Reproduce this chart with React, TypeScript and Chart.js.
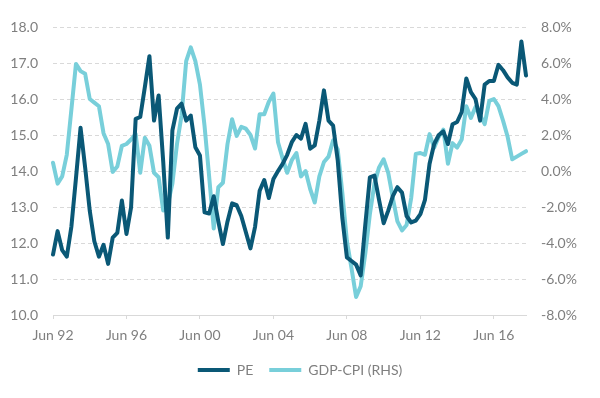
import React, { useEffect, useRef } from 'react';
import { Chart, registerables } from 'chart.js';

Chart.register(...registerables);

// Quarterly observations, Jun 1992 .. Mar 2018
const START_YEAR = 1992;
const QUARTER_MONTHS = ['Jun', 'Sep', 'Dec', 'Mar'];
const LABEL_EVERY = 16; // one label every 4 years

const peValues = [
  11.68, 12.33, 11.8, 11.62, 12.45, 13.8, 15.2, 14.1, 12.9, 12.05,
  11.62, 11.95, 11.42, 12.15, 12.28, 13.18, 12.25, 12.99, 15.45, 15.5,
  16.33, 17.19, 15.4, 16.1, 14.26, 12.15, 15.13, 15.73, 15.87, 15.4,
  15.54, 14.66, 14.43, 12.85, 12.82, 13.3, 12.6, 11.97, 12.6, 13.1,
  13.05, 12.75, 12.3, 11.85, 12.45, 13.45, 13.75, 13.25, 13.78, 14.0,
  14.2, 14.45, 14.8, 15.0, 14.9, 15.31, 14.62, 14.71, 15.4, 16.24,
  15.4, 15.26, 14.3, 12.7, 11.6, 11.5, 11.4, 11.1, 12.5, 13.82,
  13.87, 13.2, 12.55, 12.9, 13.3, 13.55, 13.4, 12.75, 12.57, 12.62,
  12.8, 13.2, 14.2, 14.75, 15.0, 15.1, 14.75, 15.3, 15.36, 15.64,
  16.57, 16.19, 16.0, 15.4, 16.4, 16.5, 16.5, 16.95, 16.8, 16.6,
  16.45, 16.4, 17.6, 16.65,
];

const gdpCpiValues = [
  0.46, -0.7, -0.3, 0.9, 3.4, 5.95, 5.55, 5.4, 4.0, 3.8,
  3.6, 2.1, 1.5, -0.05, 0.25, 1.4, 1.5, 1.75, 2.05, -0.1,
  1.85, 1.4, -0.1, -0.35, -2.2, -1.85, -0.7, 1.5, 3.1, 6.1,
  6.87, 6.1, 4.8, 2.5, -0.3, -3.2, -0.9, -0.65, 1.5, 2.88,
  1.95, 2.45, 2.35, 2.0, 1.25, 3.15, 3.15, 3.85, 4.3, 1.6,
  0.7, -0.1, 0.6, 1.0, -0.3, 0.0, -1.0, -1.75, -0.3, 0.5,
  0.8, 1.7, 1.2, -1.2, -3.9, -5.4, -7.0, -6.4, -4.6, -2.4,
  -0.7, 0.2, 0.65, -0.1, -1.5, -2.8, -3.3, -3.0, -1.5, 0.95,
  1.0, 0.9, 2.05, 1.3, 1.9, 2.3, 0.4, 1.55, 1.3, 1.75,
  3.6, 2.95, 3.55, 3.1, 2.6, 3.9, 4.0, 3.6, 2.8, 1.9,
  0.65, 0.8, 0.95, 1.1,
];

const leftAxis = { min: 10, max: 18, step: 1 };
const rightAxis = { min: -8, max: 8, step: 2 };

const seriesNames = ['PE', 'GDP-CPI (RHS)'];

function quarterLabel(i: number): string {
  const month = QUARTER_MONTHS[i % 4];
  const year = START_YEAR + Math.floor((i + 1) / 4);
  return `${month} ${String(year % 100).padStart(2, '0')}`;
}

const categories = peValues.map((_, i) => quarterLabel(i));

const TEXT_COLOR = '#7f7f7f';
const GRID_COLOR = '#d9d9d9';
const FONT = { family: 'Lato', size: 14 };

export default function App() {
  const canvasRef = useRef<HTMLCanvasElement | null>(null);

  useEffect(() => {
    const canvas = canvasRef.current;
    if (!canvas) return;
    const chart = new Chart(canvas, {
      type: 'line',
      data: {
        labels: categories,
        datasets: [
          {
            label: seriesNames[0],
            data: peValues,
            yAxisID: 'y',
            borderColor: '#0a5876',
            backgroundColor: '#0a5876',
            borderWidth: 4,
            pointRadius: 0,
            tension: 0,
            borderCapStyle: 'round',
            borderJoinStyle: 'round',
          },
          {
            label: seriesNames[1],
            data: gdpCpiValues,
            yAxisID: 'y1',
            borderColor: '#78cfda',
            backgroundColor: '#78cfda',
            borderWidth: 4,
            pointRadius: 0,
            tension: 0,
            borderCapStyle: 'round',
            borderJoinStyle: 'round',
          },
        ],
      },
      options: {
        animation: false,
        responsive: false,
        maintainAspectRatio: false,
        layout: { padding: { left: 0, right: 0, top: 27, bottom: 11 } },
        plugins: {
          tooltip: { enabled: false },
          legend: {
            position: 'bottom',
            labels: {
              usePointStyle: true,
              pointStyle: 'line',
              pointStyleWidth: 32,
              padding: 16,
              color: TEXT_COLOR,
              font: FONT,
            },
          },
        },
        scales: {
          x: {
            type: 'category',
            offset: false,
            grid: {
              display: true,
              drawOnChartArea: false,
              drawTicks: true,
              tickLength: 4,
              color: GRID_COLOR,
            },
            border: { display: true, color: GRID_COLOR, width: 1 },
            ticks: {
              autoSkip: false,
              maxRotation: 0,
              minRotation: 0,
              padding: 8,
              color: TEXT_COLOR,
              font: FONT,
              callback: (_v: any, i: number) => (i % LABEL_EVERY === 0 ? categories[i] : null),
            },
            afterFit: (s: any) => {
              s.height = 32;
            },
          },
          y: {
            position: 'left',
            min: leftAxis.min,
            max: leftAxis.max,
            grid: { color: GRID_COLOR, drawTicks: false, lineWidth: 1 },
            border: { display: false, dash: [4, 3] },
            ticks: {
              stepSize: leftAxis.step,
              padding: 15,
              color: TEXT_COLOR,
              font: FONT,
              callback: (v: any) => Number(v).toFixed(1),
            },
            afterFit: (s: any) => {
              s.width = 53;
            },
          },
          y1: {
            position: 'right',
            min: rightAxis.min,
            max: rightAxis.max,
            grid: { display: false, drawTicks: false },
            border: { display: false },
            ticks: {
              stepSize: rightAxis.step,
              padding: 15,
              color: TEXT_COLOR,
              font: FONT,
              callback: (v: any) => Number(v).toFixed(1) + '%',
            },
            afterFit: (s: any) => {
              s.width = 74;
            },
          },
        },
      },
    } as any);
    return () => chart.destroy();
  }, []);

  return (
    <div style={{ position: 'absolute', left: 0, top: 0, width: 600, height: 398, background: '#fff' }}>
      <canvas ref={canvasRef} width={600} height={398} style={{ width: 600, height: 398, display: 'block' }} />
    </div>
  );
}
